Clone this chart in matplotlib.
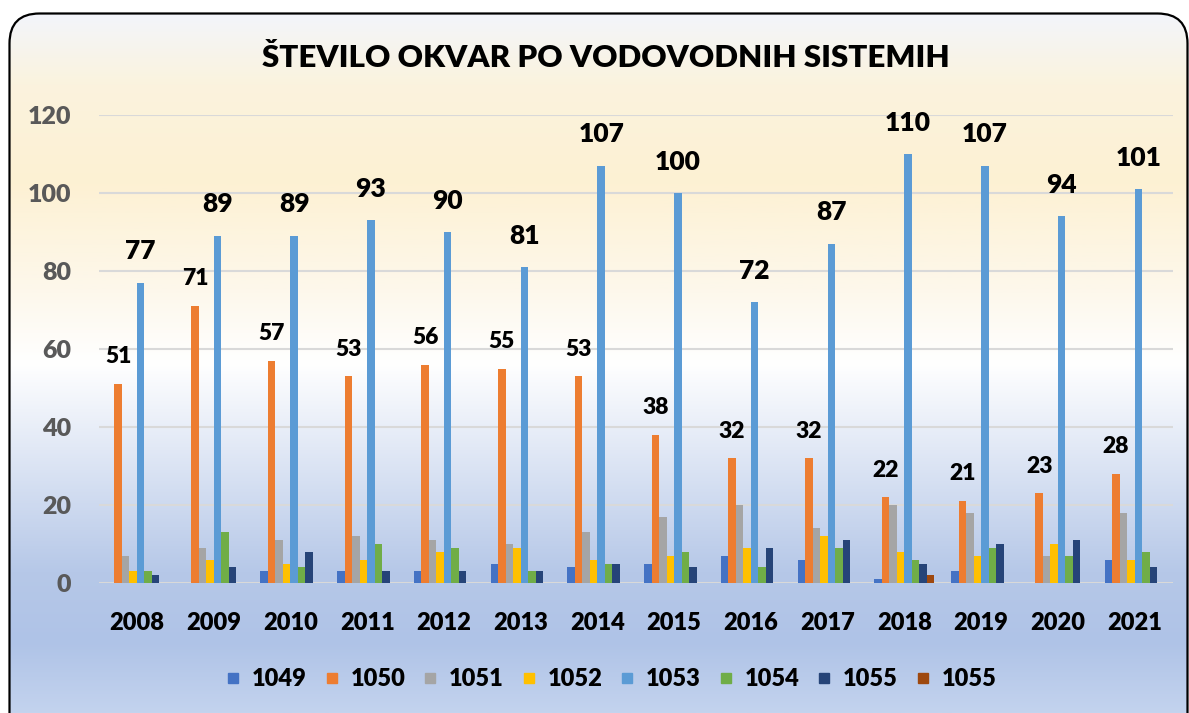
import numpy as np
import matplotlib
matplotlib.use('Agg')
import matplotlib.pyplot as plt
from matplotlib.colors import LinearSegmentedColormap
from matplotlib.patches import FancyBboxPatch
from matplotlib.lines import Line2D

plt.rcParams['font.family'] = ['Lato', 'DejaVu Sans']

leta = ['2008', '2009', '2010', '2011', '2012', '2013', '2014',
        '2015', '2016', '2017', '2018', '2019', '2020', '2021']
serije = ['1049', '1050', '1051', '1052', '1053', '1054', '1055', '1055']

s1049 = [0, 0, 3, 3, 3, 5, 4, 5, 7, 6, 1, 3, 0, 6]
s1050 = [51, 71, 57, 53, 56, 55, 53, 38, 32, 32, 22, 21, 23, 28]
s1051 = [7, 9, 11, 12, 11, 10, 13, 17, 20, 14, 20, 18, 7, 18]
s1052 = [3, 6, 5, 6, 8, 9, 6, 7, 9, 12, 8, 7, 10, 6]
s1053 = [77, 89, 89, 93, 90, 81, 107, 100, 72, 87, 110, 107, 94, 101]
s1054 = [3, 13, 4, 10, 9, 3, 5, 8, 4, 9, 6, 9, 7, 8]
s1055 = [2, 4, 8, 3, 3, 3, 5, 4, 9, 11, 5, 10, 11, 4]
s1055b = [0, 0, 0, 0, 0, 0, 0, 0, 0, 0, 2, 0, 0, 0]

vrednosti = [s1049, s1050, s1051, s1052, s1053, s1054, s1055, s1055b]
barve = ['#4472C4', '#ED7D31', '#A5A5A5', '#FFC000',
         '#5B9BD5', '#70AD47', '#264478', '#9E480E']

W, H = 1189, 713
debelo = 'heavy'
fig = plt.figure(figsize=(W / 100, H / 100), dpi=100)

# ozadje z gradientom in zaobljenim okvirjem
bg = fig.add_axes([0, 0, 1, 1], zorder=-1)
bg.set_xlim(0, W)
bg.set_ylim(0, H)
bg.axis('off')
stops = [(0.0, '#f3f5fb'), (0.10, '#fbf3de'), (0.24, '#fdf1d3'),
         (0.40, '#fdf8ec'), (0.50, '#ffffff'), (0.62, '#e2e9f6'),
         (0.80, '#b6c8e8'), (0.90, '#afc3e7'), (1.0, '#c3d3ee')]
cmap = LinearSegmentedColormap.from_list('ozadje', stops)
grad = np.linspace(0, 1, 256).reshape(-1, 1)
img = bg.imshow(grad, cmap=cmap, aspect='auto', extent=[0, W, 0, H - 13],
                origin='upper', zorder=0)
okvir = FancyBboxPatch((9.5, -40), 1178, H - 13.5 + 40,
                       boxstyle='round,pad=0,rounding_size=30',
                       facecolor='none', edgecolor='black', linewidth=1.6,
                       zorder=2)
bg.add_patch(okvir)
img.set_clip_path(okvir)

ax = fig.add_axes([98.6 / W, 130 / H, (1173 - 98.6) / W, 468 / H])
ax.set_facecolor('none')

x = np.arange(len(leta))
w = 0.0977
for i, (vals, c) in enumerate(zip(vrednosti, barve)):
    pos = x + (i - 3.5) * w
    ax.bar(pos, vals, width=w, color=c, zorder=3)
    if i == 1:
        for p, v in zip(pos, vals):
            ax.annotate(str(v), (p, v), xytext=(0, 12), textcoords='offset points',
                        ha='center', va='bottom', fontsize=16.5, fontweight=debelo,
                        color='black')
    if i == 4:
        for p, v in zip(pos, vals):
            ax.annotate(str(v), (p, v), xytext=(0, 14), textcoords='offset points',
                        ha='center', va='bottom', fontsize=19, fontweight=debelo,
                        color='black', annotation_clip=False)

ax.set_xlim(-0.5, len(leta) - 0.5)
ax.set_ylim(0, 120)
ax.set_yticks(range(0, 121, 20))
ax.set_xticks(x)
ax.set_xticklabels(leta)
ax.grid(axis='y', color='#d9d9d9', linewidth=1.5, zorder=0)
ax.axhline(0, color='#d9d9d9', linewidth=2, zorder=2)
for s in ax.spines.values():
    s.set_visible(False)
ax.tick_params(axis='y', length=0, pad=20, labelsize=18, labelcolor='#595959')
ax.tick_params(axis='x', length=0, pad=21, labelsize=17, labelcolor='black')
for t in ax.get_xticklabels() + ax.get_yticklabels():
    t.set_fontweight(debelo)

fig.text(605.5 / W, 1 - 58 / H, 'ŠTEVILO OKVAR PO VODOVODNIH SISTEMIH',
         ha='center', va='center', fontsize=22.5, fontweight=debelo, color='black')

handles = [Line2D([], [], marker='s', linestyle='none', markersize=7.5,
                  markerfacecolor=c, markeredgecolor=c) for c in barve]
leg = fig.legend(handles, serije, loc='center', ncol=8,
                 bbox_to_anchor=(610 / W, 1 - 679 / H), frameon=False,
                 handlelength=0.8, handletextpad=0.4, columnspacing=0.65,
                 prop={'weight': debelo, 'size': 17})

fig.savefig('out.png', dpi=100)
